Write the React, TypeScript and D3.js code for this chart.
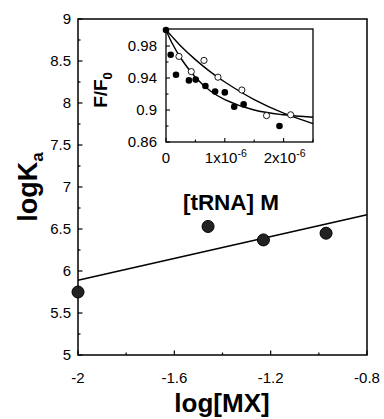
import React from "react";
import * as d3 from "d3";

// Main plot data
const mainX = [-2, -1.46, -1.23, -0.97];
const mainY = [5.75, 6.53, 6.37, 6.45];
const fitX = [-2, -0.8];
const fitY = [5.89, 6.67];
const mainXTicks = [-2, -1.6, -1.2, -0.8];
const mainYTicks = [5, 5.5, 6, 6.5, 7, 7.5, 8, 8.5, 9];

// Inset data (x in units of 1e-6 M)
const filledX = [0, 0.08, 0.17, 0.39, 0.505, 0.67, 0.835, 1.0, 1.16, 1.32, 1.93];
const filledY = [1.0, 0.969, 0.944, 0.937, 0.938, 0.93, 0.923, 0.922, 0.904, 0.907, 0.88];
const openX = [0.22, 0.43, 0.646, 0.884, 1.29, 1.71, 2.12];
const openY = [0.967, 0.948, 0.962, 0.941, 0.925, 0.893, 0.894];
const curveX = [0, 0.1, 0.25, 0.5, 0.75, 1.0, 1.5, 2.0, 2.5];
const curveAY = [1.0, 0.984, 0.965, 0.941, 0.924, 0.913, 0.9, 0.894, 0.891];
const curveBY = [1.0, 0.992, 0.98, 0.963, 0.948, 0.935, 0.913, 0.896, 0.883];
const insetYTicks = [0.86, 0.9, 0.94, 0.98];
const insetXTicks = [0, 1, 2];

const FONT = "'Liberation Sans', Arial, sans-serif";

export default function App() {
  const x = d3.scaleLinear().domain([-2, -0.8]).range([78, 367]);
  const y = d3.scaleLinear().domain([5, 9]).range([355, 19]);
  const ix = d3.scaleLinear().domain([0, 2.5]).range([166, 313]);
  const iy = d3.scaleLinear().domain([0.86, 1.0]).range([142, 30]);

  const fitLine = d3
    .line<number>()
    .x((_, i) => x(fitX[i]))
    .y((d) => y(d));
  const curveLine = (ys: number[]) =>
    d3
      .line<number>()
      .x((_, i) => ix(curveX[i]))
      .y((d) => iy(d))
      .curve(d3.curveCatmullRom)(ys) || "";

  const xMinor = d3.range(-2, -0.79, 0.2);
  const yMinor = d3.range(5, 9.01, 0.25);
  const ixMinor = d3.range(0, 2.51, 0.5);
  const iyMinor = d3.range(0.86, 1.001, 0.02);

  return (
    <div style={{ position: "absolute", left: 0, top: 0 }}>
      <svg width={384} height={419} style={{ display: "block", background: "#fff" }} fontFamily={FONT}>
        {/* main frame */}
        <rect x={78} y={19} width={289} height={336} fill="none" stroke="#000" strokeWidth={1.5} />
        {/* main x ticks */}
        {xMinor.map((v, i) => {
          const major = Math.abs(Math.round(v * 10) % 4) === 0;
          return (
            <line key={"xm" + i} x1={x(v)} x2={x(v)} y1={355} y2={355 - (major ? 4.5 : 2.5)} stroke="#000" strokeWidth={1.2} />
          );
        })}
        {yMinor.map((v, i) => {
          const major = Math.abs(v * 2 - Math.round(v * 2)) < 1e-6;
          return (
            <line key={"ym" + i} x1={78} x2={78 + (major ? 4.5 : 2.5)} y1={y(v)} y2={y(v)} stroke="#000" strokeWidth={1.2} />
          );
        })}
        {mainXTicks.map((v) => (
          <text key={"xt" + v} x={x(v)} y={383} fontSize={15} textAnchor="middle" fill="#000">
            {v === -2 ? "-2" : v.toString()}
          </text>
        ))}
        {mainYTicks.map((v) => (
          <text key={"yt" + v} x={71} y={y(v) + 5.3} fontSize={15} textAnchor="end" fill="#000">
            {v.toString()}
          </text>
        ))}
        {/* fit line */}
        <path d={fitLine(fitY) || ""} fill="none" stroke="#000" strokeWidth={1.5} />
        {/* main points */}
        {mainX.map((v, i) => (
          <circle key={"mp" + i} cx={x(v)} cy={y(mainY[i])} r={6} fill="#222" stroke="#000" strokeWidth={1} />
        ))}
        {/* axis titles */}
        <text x={222} y={412} fontSize={26} fontWeight="bold" textAnchor="middle" fill="#000">
          log[MX]
        </text>
        <text transform="translate(37,187) rotate(-90)" fontSize={27} fontWeight="bold" textAnchor="middle" fill="#000">
          logK<tspan fontSize={17} dy={6}>a</tspan>
        </text>

        {/* inset */}
        <rect x={166} y={29} width={147} height={113} fill="#fff" stroke="#000" strokeWidth={1.3} />
        {ixMinor.map((v, i) => {
          const major = Math.abs(v - Math.round(v)) < 1e-6;
          return (
            <line key={"ixm" + i} x1={ix(v)} x2={ix(v)} y1={142} y2={142 - (major ? 4 : 2.5)} stroke="#000" strokeWidth={1.1} />
          );
        })}
        {iyMinor.map((v, i) => {
          const major = insetYTicks.some((t) => Math.abs(t - v) < 1e-6);
          return (
            <line key={"iym" + i} x1={166} x2={166 + (major ? 4 : 2.5)} y1={iy(v)} y2={iy(v)} stroke="#000" strokeWidth={1.1} />
          );
        })}
        {insetYTicks.map((v) => (
          <text key={"iyt" + v} x={157} y={iy(v) + 5.3} fontSize={15} textAnchor="end" fill="#000">
            {v.toString()}
          </text>
        ))}
        {insetXTicks.map((v) =>
          v === 0 ? (
            <text key={"ixt" + v} x={ix(v)} y={163} fontSize={15} textAnchor="middle" fill="#000">
              0
            </text>
          ) : (
            <text key={"ixt" + v} x={ix(v) + 1} y={163} fontSize={15} textAnchor="middle" fill="#000">
              {v}x10<tspan fontSize={10.5} dy={-6}>-6</tspan>
            </text>
          )
        )}
        <path d={curveLine(curveAY)} fill="none" stroke="#000" strokeWidth={1.4} />
        <path d={curveLine(curveBY)} fill="none" stroke="#000" strokeWidth={1.4} />
        {openX.map((v, i) => (
          <circle key={"op" + i} cx={ix(v)} cy={iy(openY[i])} r={3.1} fill="#fff" stroke="#000" strokeWidth={0.9} />
        ))}
        {filledX.map((v, i) => (
          <circle key={"fp" + i} cx={ix(v)} cy={iy(filledY[i])} r={3.3} fill="#000" />
        ))}
        <text transform="translate(107,90) rotate(-90)" fontSize={19} fontWeight="bold" textAnchor="middle" fill="#000">
          F/F<tspan fontSize={13} dy={5}>0</tspan>
        </text>
        <text x={231} y={210} fontSize={22.5} fontWeight="bold" textAnchor="middle" fill="#000">
          [tRNA] M
        </text>
      </svg>
    </div>
  );
}
